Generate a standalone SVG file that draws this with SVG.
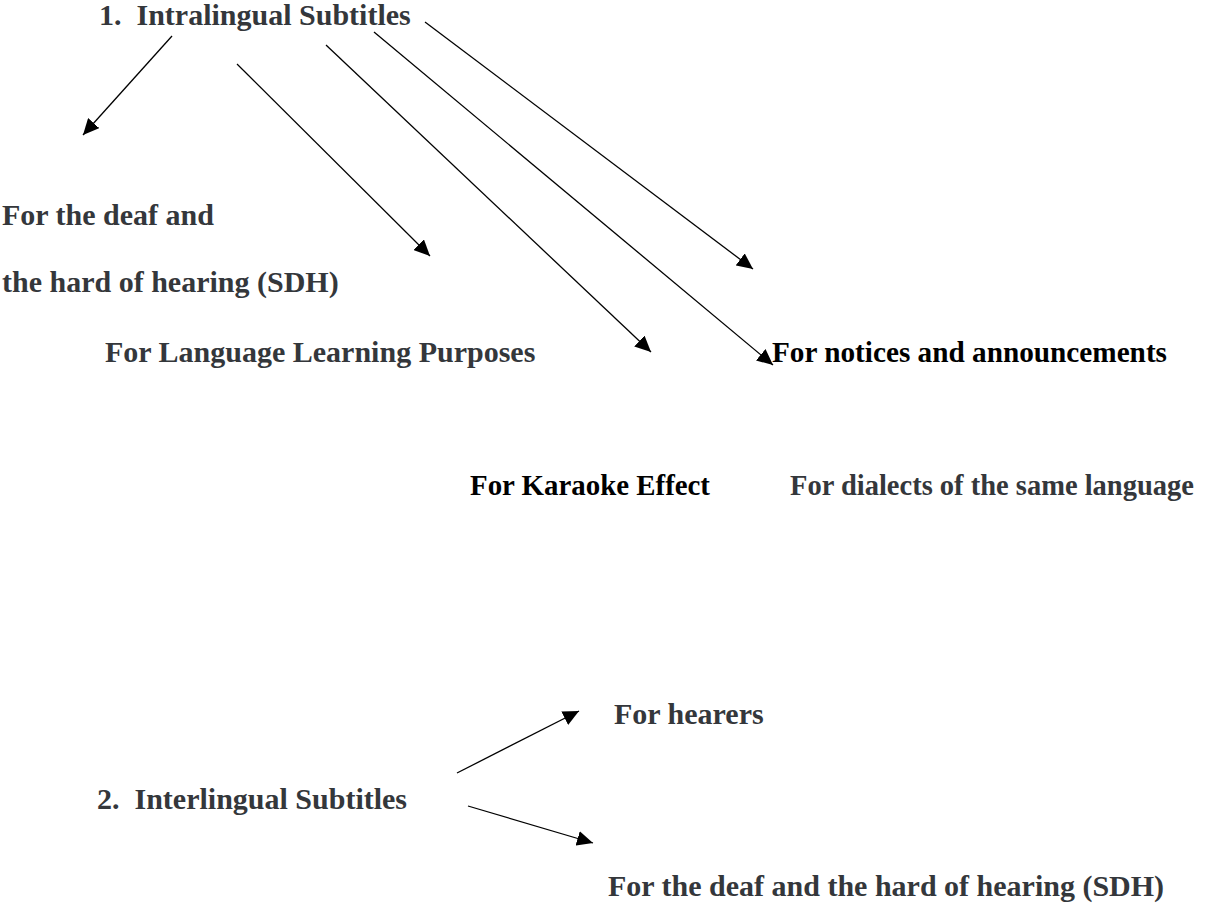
<svg xmlns="http://www.w3.org/2000/svg" width="1212" height="903" viewBox="0 0 1212 903">
  <style>
    .t { font-family: "Liberation Serif", "Times New Roman", Tinos, serif; font-weight: bold; font-size: 30px; fill: #34373b; white-space: pre; }
    .k { fill: #000000; }
    .c { stroke: #000000; stroke-width: 1.3; fill: none; marker-end: url(#ah); }
  </style>
  <defs>
    <marker id="ah" markerWidth="17" markerHeight="15" refX="16" refY="7.5" orient="auto" markerUnits="userSpaceOnUse">
      <path d="M0,0 L16,7.5 L0,15 z" fill="#000000"/>
    </marker>
  </defs>
  <rect width="1212" height="903" fill="#ffffff"/>

  <g id="connectors">
    <line class="c" x1="172" y1="36" x2="83" y2="135"/>
    <line class="c" x1="237" y1="64" x2="430" y2="256"/>
    <line class="c" x1="326" y1="45" x2="651" y2="352"/>
    <line class="c" x1="374" y1="32" x2="773" y2="365"/>
    <line class="c" x1="425" y1="22" x2="753" y2="269"/>
    <line class="c" x1="457" y1="773" x2="579" y2="711"/>
    <line class="c" x1="468" y1="806" x2="593" y2="843"/>
  </g>

  <g id="intralingual">
    <text class="t" x="99" y="25">1.  Intralingual Subtitles</text>
  </g>
  <g id="sdh1">
    <text class="t" x="2" y="225">For the deaf and</text>
    <text class="t" x="2" y="292">the hard of hearing (SDH)</text>
  </g>
  <g id="language-learning">
    <text class="t" x="105" y="362">For Language Learning Purposes</text>
  </g>
  <g id="notices">
    <text class="t k" x="772" y="362" textLength="395" lengthAdjust="spacingAndGlyphs">For notices and announcements</text>
  </g>
  <g id="karaoke">
    <text class="t k" x="470" y="495" textLength="240" lengthAdjust="spacingAndGlyphs">For Karaoke Effect</text>
  </g>
  <g id="dialects">
    <text class="t" x="790" y="495" style="font-size:28.5px">For dialects of the same language</text>
  </g>
  <g id="interlingual">
    <text class="t" x="97" y="809">2.  Interlingual Subtitles</text>
  </g>
  <g id="hearers">
    <text class="t" x="614" y="724">For hearers</text>
  </g>
  <g id="sdh2">
    <text class="t" x="608" y="896">For the deaf and the hard of hearing (SDH)</text>
  </g>
</svg>
